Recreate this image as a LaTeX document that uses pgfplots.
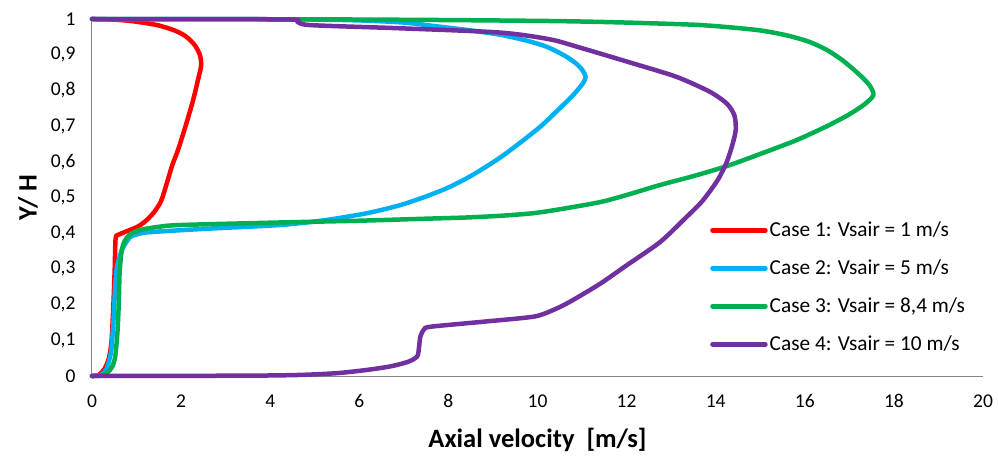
\documentclass[border=0pt]{standalone}
\usepackage{fontspec}
\setmainfont{Carlito}
\usepackage{pgfplots}
\pgfplotsset{compat=1.18}
\definecolor{cred}{HTML}{FF0000}
\definecolor{cblue}{HTML}{00B0F0}
\definecolor{cgreen}{HTML}{00B050}
\definecolor{cpurple}{HTML}{7030A0}
\definecolor{axgray}{HTML}{868686}
\begin{document}
\begin{tikzpicture}
\begin{axis}[
  scale only axis,
  width=891pt, height=357pt,
  xmin=0, xmax=20, ymin=0, ymax=1,
  xtick={0,2,...,20},
  ytick={0,0.1,...,1},
  axis lines*=left,
  axis line style={-, draw=axgray, line width=1pt},
  major tick length=0pt,
  clip=false,
  /pgf/number format/assume math mode=true,
  yticklabel style={/pgf/number format/use comma, /pgf/number format/fixed, /pgf/number format/precision=1, xshift=-13pt},
  tick label style={font=\fontsize{19.5}{23}\selectfont},
  xticklabel style={yshift=-15pt},
  xlabel={\textbf{Axial velocity\ \ [m/s]}},
  ylabel={\textbf{Y/ H}},
  xlabel style={at={(axis description cs:0.5,-0.179)}, anchor=center, font=\fontsize{26.5}{30}\selectfont},
  ylabel style={at={(axis description cs:-0.072,0.5)}, anchor=center, font=\fontsize{26.5}{30}\selectfont},
  legend style={at={(rel axis cs:0.6936,0.437)}, anchor=north west, draw=none, fill=none,
    font=\fontsize{21.3}{25}\selectfont, row sep=17.7pt, inner sep=0pt},
  legend cell align=left,
  legend image code/.code={\draw[#1] (0pt,0pt) -- (53pt,0pt);},
  every axis plot/.append style={line width=4.5pt, line cap=round, line join=round, smooth, tension=0.45},
]
\addplot[cred] coordinates {(0,0)(0.15,0.003)(0.28,0.02)(0.38,0.05)(0.44,0.1)(0.48,0.2)(0.51,0.3)(0.53,0.385)(0.6,0.396)(0.85,0.409)(1.05,0.42)(1.23,0.437)(1.4,0.46)(1.55,0.49)(1.68,0.54)(1.8,0.59)(1.93,0.633)(2.1,0.7)(2.27,0.773)(2.38,0.83)(2.45,0.87)(2.42,0.9)(2.3,0.928)(2.1,0.952)(1.85,0.968)(1.46,0.983)(0.9,0.994)(0.4,0.999)(0,1)};
\addlegendentry{Case 1: Vsair = 1 m/s}
\addplot[cblue] coordinates {(0,0)(0.2,0.003)(0.33,0.02)(0.43,0.07)(0.48,0.15)(0.52,0.25)(0.56,0.305)(0.67,0.353)(0.85,0.388)(1.05,0.398)(1.3,0.403)(2.5,0.412)(4.22,0.423)(5.2,0.436)(6.17,0.456)(6.9,0.478)(7.5,0.503)(8.0,0.528)(8.5,0.56)(9.08,0.605)(9.5,0.643)(10.06,0.698)(10.5,0.75)(10.8,0.787)(11.02,0.82)(11.08,0.838)(11.0,0.858)(10.85,0.877)(10.6,0.898)(10.21,0.922)(9.8,0.938)(9.2,0.955)(8.5,0.968)(7.7,0.98)(7.0,0.99)(6.0,0.996)(4.5,0.999)(0,1)};
\addlegendentry{Case 2: Vsair = 5 m/s}
\addplot[cgreen] coordinates {(0,0)(0.2,0.001)(0.33,0.008)(0.45,0.025)(0.52,0.054)(0.57,0.12)(0.6,0.2)(0.62,0.29)(0.66,0.345)(0.72,0.375)(0.85,0.396)(1.08,0.409)(1.5,0.418)(2,0.423)(4.2,0.43)(6,0.435)(7.6,0.441)(8.4,0.444)(9.2,0.449)(9.9,0.456)(10.5,0.467)(11.4,0.487)(12,0.507)(12.75,0.535)(13.5,0.56)(14.25,0.588)(15,0.622)(15.8,0.66)(16.5,0.7)(17.0,0.733)(17.35,0.762)(17.54,0.787)(17.45,0.815)(17.2,0.847)(16.86,0.883)(16.5,0.913)(16.1,0.936)(15.6,0.954)(15,0.968)(14.2,0.978)(13.5,0.984)(12,0.99)(10.5,0.994)(8,0.997)(5,0.999)(0,1)};
\addlegendentry{Case 3: Vsair = 8,4 m/s}
\addplot[cpurple] coordinates {(0,0)(3.5,0.001)(4.67,0.003)(5.5,0.008)(6.17,0.017)(6.7,0.027)(7.1,0.04)(7.3,0.055)(7.34,0.08)(7.37,0.11)(7.45,0.13)(7.6,0.138)(8.78,0.152)(9.9,0.166)(10.3,0.182)(10.7,0.206)(11.4,0.258)(12.0,0.31)(12.75,0.375)(13.3,0.44)(13.7,0.49)(14.05,0.55)(14.25,0.6)(14.38,0.65)(14.45,0.69)(14.42,0.73)(14.25,0.763)(13.87,0.796)(13.12,0.838)(12.08,0.878)(10.95,0.92)(10.28,0.943)(9.16,0.962)(6.91,0.974)(4.89,0.983)(4.6,0.993)(4.3,0.999)(0,1)};
\addlegendentry{Case 4: Vsair = 10 m/s}
\coordinate (bl) at (rel axis cs:0,0);
\coordinate (tr) at (rel axis cs:1,1);
\end{axis}
\pgfresetboundingbox
\path (bl) +(-92pt,-82pt) (tr) +(15pt,19pt);
\end{tikzpicture}
\end{document}
